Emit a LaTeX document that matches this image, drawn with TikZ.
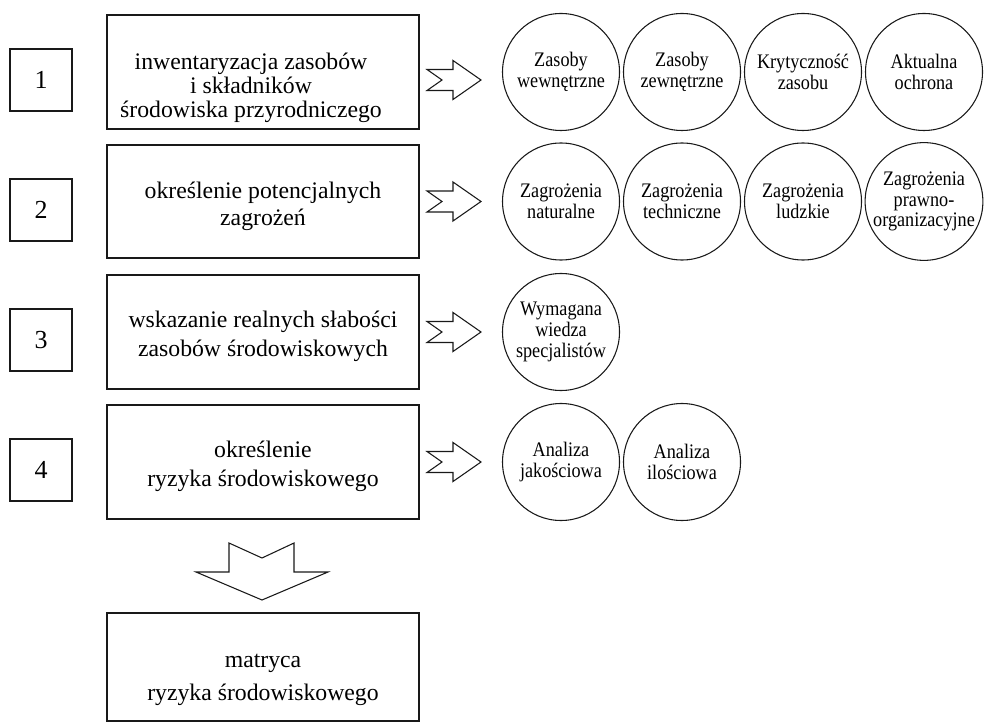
\documentclass[tikz,border=0pt]{standalone}
\usepackage{fontspec}
\setmainfont{Liberation Serif}
\newfontfamily\circfont{Liberation Serif}[FakeStretch=0.88]
\begin{document}
\begin{tikzpicture}[x=0.75pt,y=-0.75pt,
  line join=miter,
  mainbox/.style={draw=black!90, line width=0.9pt, minimum width=234pt, minimum height=85.5pt, inner sep=0pt},
  numbox/.style={draw=black!90, line width=0.9pt, minimum width=46.5pt, minimum height=46.5pt, inner sep=0pt,
     font=\fontsize{19.5pt}{19.5pt}\selectfont},
  maintext/.style={align=center, inner sep=0pt, font=\fontsize{17.8pt}{18pt}\selectfont},
  circ/.style={draw=black!90, line width=0.8pt, circle, minimum size=87.75pt, inner sep=0pt, align=center,
     font=\circfont\fontsize{15.5pt}{15.6pt}\selectfont},
  blockarrow/.style={draw=black!90, line width=0.8pt, fill=white}
]
\useasboundingbox (0,0) rectangle (984,723);

% left number boxes
\node[numbox] (n1) at (41,80) {1};
\node[numbox] (n2) at (41,210) {2};
\node[numbox] (n3) at (41,340) {3};
\node[numbox] (n4) at (41,470) {4};

% main boxes
\node[mainbox] (b1) at (263,72) {};
\node[mainbox, minimum height=84.75pt] (b2) at (263,201.5) {};
\node[mainbox] (b3) at (263,332) {};
\node[mainbox] (b4) at (263,462) {};
\node[mainbox, minimum height=81pt] (b5) at (263,667) {};

\node[maintext] (t1) at (251,88) {inwentaryzacja zasobów\\i składników\\środowiska przyrodniczego};
\node[maintext, font=\fontsize{17.8pt}{20pt}\selectfont] (t2) at (263,206) {określenie potencjalnych\\zagrożeń};
\node[maintext, font=\fontsize{17.8pt}{22pt}\selectfont] (t3) at (263,336) {wskazanie realnych słabości\\zasobów środowiskowych};
\node[maintext, font=\fontsize{17.8pt}{22pt}\selectfont] (t4) at (263,466) {określenie\\ryzyka środowiskowego};
\node[maintext, font=\fontsize{17.8pt}{24.5pt}\selectfont] (t5) at (263,680) {matryca\\ryzyka środowiskowego};

% right block arrows
\foreach \c/\nm in {80/a1, 201.5/a2, 332/a3, 462/a4}{
  \coordinate (\nm) at (481,\c);
  \draw[blockarrow] (\nm) ++(-54,-10.5) -- ++(15,10.5) -- ++(-15,10.5) -- ++(26,0) -- ++(0,9)
     -- ++(28,-19.5) -- ++(-28,-19.5) -- ++(0,9) -- cycle;
}

% down block arrow
\coordinate (dtip) at (262,600);
\draw[blockarrow] (dtip) ++(-33,-57) -- ++(33,15) -- ++(32,-15) -- ++(0,29) -- ++(34,0)
   -- (dtip) -- ++(-66,-28) -- ++(33,0) -- cycle;

% circles row 1
\node[circ] (c11) at (561,72) {Zasoby\\wewnętrzne};
\node[circ] (c12) at (682,72) {Zasoby\\zewnętrzne};
\node[circ] (c13) at (803,72) {Krytyczność\\zasobu};
\node[circ] (c14) at (924,72) {Aktualna\\ochrona};
% row 2
\node[circ] (c21) at (561,201.5) {Zagrożenia\\naturalne};
\node[circ] (c22) at (682,201.5) {Zagrożenia\\techniczne};
\node[circ] (c23) at (803,201.5) {Zagrożenia\\ludzkie};
\node[circ] (c24) at (924,201.5) {Zagrożenia\\prawno-\\organizacyjne};
% row 3
\node[circ] (c31) at (561,332) {Wymagana\\wiedza\\specjalistów};
% row 4
\node[circ] (c41) at (561,462) {Analiza\\jakościowa};
\node[circ] (c42) at (682,462) {Analiza\\ilościowa};
\end{tikzpicture}
\end{document}
